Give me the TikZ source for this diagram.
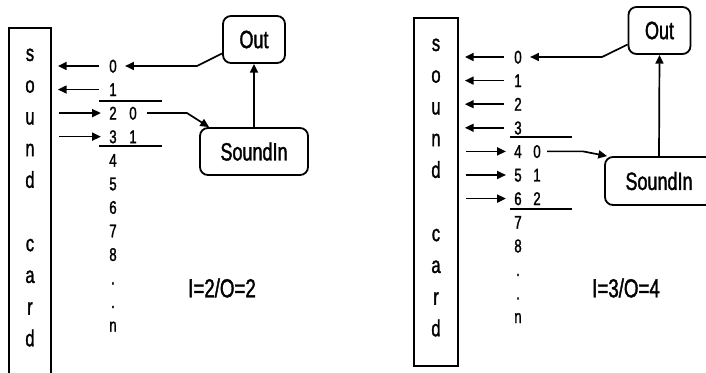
\documentclass[tikz,border=0pt]{standalone}
\usepackage{fontspec}
\setmainfont{Liberation Sans}[FakeStretch=0.72, FakeBold=1.4]
\usetikzlibrary{arrows.meta, positioning}
\tikzset{
	card/.style  ={rectangle, draw=black, line width=0.9pt, inner sep=0pt},
	cardch/.style={inner sep=0pt, font=\fontsize{11.5}{13}\selectfont, text height=8pt, text depth=0pt},
	chan/.style  ={inner sep=0pt, font=\fontsize{9.2}{11}\selectfont, text height=6.5pt, text depth=0pt},
	ugen/.style  ={rectangle, rounded corners=4pt, draw=black, line width=0.9pt, font=\fontsize{12.5}{14}\selectfont, inner sep=0pt, minimum height=23.5pt},
	sig/.style   ={-{Triangle[length=4.4pt, width=4pt]}, line width=0.85pt},
	rule/.style  ={line width=0.55pt},
	cfg/.style   ={font=\fontsize{13}{15}\selectfont},
}
\begin{document}
\begin{tikzpicture}[x=0.5pt, y=-0.5pt]
	\clip (0,0) rectangle (706,373);
	% left: two inputs, two outputs
	\node[card, minimum width=21pt, minimum height=176pt] (cardL) at (30,204) {};
	\foreach \i/\ch in {0/s,1/o,2/u,3/n,4/d,6/c,7/a,8/r,9/d}
		\node[cardch] (cL\i) at (30, 53+31.7*\i) {\ch};
	\foreach \t [count=\i from 0] in {0,1,2,3,4,5,6,7,8,.,.,n}
		\node[chan] (nL\i) at (113, 66+23.55*\i) {\t};
	\node[chan] (mL2) at (133, 66+23.55*2) {0};
	\node[chan] (mL3) at (133, 66+23.55*3) {1};
	\draw[rule] (99,101) -- (162,101);
	\draw[rule] (99,146) -- (162,146);
	\foreach \i in {0,1}
		\draw[sig, shorten <=5pt, shorten >=3pt] (nL\i.west) -- (cardL.east |- nL\i.west);
	\foreach \i in {2,3}
		\draw[sig, shorten <=3.5pt, shorten >=4pt] (cardL.east |- nL\i.west) -- (nL\i.west);
	\node[ugen, minimum width=31pt] (outL) at (254,39.5) {Out};
	\node[ugen, minimum width=54pt] (sinL) at (254,151.5) {SoundIn};
	\coordinate (bendL) at ([xshift=40pt]nL0.east);
	\draw[sig, shorten >=4pt] ([yshift=-7pt]outL.west) -- (bendL) -- (nL0.east);
	\coordinate (kinkL) at ([xshift=25pt]mL2.east);
	\draw[sig, shorten <=5pt] (mL2.east) -- (kinkL) -- ([xshift=5pt]sinL.north west);
	\draw[sig] (sinL.north) -- (outL.south);
	\node[cfg] (cfgL) at (222,288) {I=2/O=2};
	% right: three inputs, four outputs
	\node[card, minimum width=22pt, minimum height=174pt] (cardR) at (436,192) {};
	\foreach \i/\ch in {0/s,1/o,2/u,3/n,4/d,6/c,7/a,8/r,9/d}
		\node[cardch] (cR\i) at (436, 43+31.7*\i) {\ch};
	\foreach \t [count=\i from 0] in {0,1,2,3,4,5,6,7,8,.,.,n}
		\node[chan] (nR\i) at (518, 57+23.6*\i) {\t};
	\node[chan] (mR4) at (537, 57+23.6*4) {0};
	\node[chan] (mR5) at (537, 57+23.6*5) {1};
	\node[chan] (mR6) at (537, 57+23.6*6) {2};
	\draw[rule] (510,137) -- (572,137);
	\draw[rule] (510,209) -- (572,209);
	\foreach \i in {0,1,2,3}
		\draw[sig, shorten <=5pt, shorten >=3pt] (nR\i.west) -- (cardR.east |- nR\i.west);
	\foreach \i in {4,5,6}
		\draw[sig, shorten <=3.5pt, shorten >=4pt] (cardR.east |- nR\i.west) -- (nR\i.west);
	\node[ugen, minimum width=31pt] (outR) at (659.5,30.5) {Out};
	\node[ugen, minimum width=54pt, minimum height=24pt] (sinR) at (659,181) {SoundIn};
	\coordinate (bendR) at ([xshift=40pt]nR0.east);
	\draw[sig, shorten >=4pt] ([yshift=-7pt]outR.west) -- (bendR) -- (nR0.east);
	\coordinate (kinkR) at ([xshift=21pt]mR4.east);
	\draw[sig, shorten <=3pt] (mR4.east) -- (kinkR) -- ([xshift=1.5pt]sinR.north west);
	\draw[sig] (sinR.north) -- (outR.south);
	\node[cfg] (cfgR) at (626,288) {I=3/O=4};
\end{tikzpicture}
\end{document}
